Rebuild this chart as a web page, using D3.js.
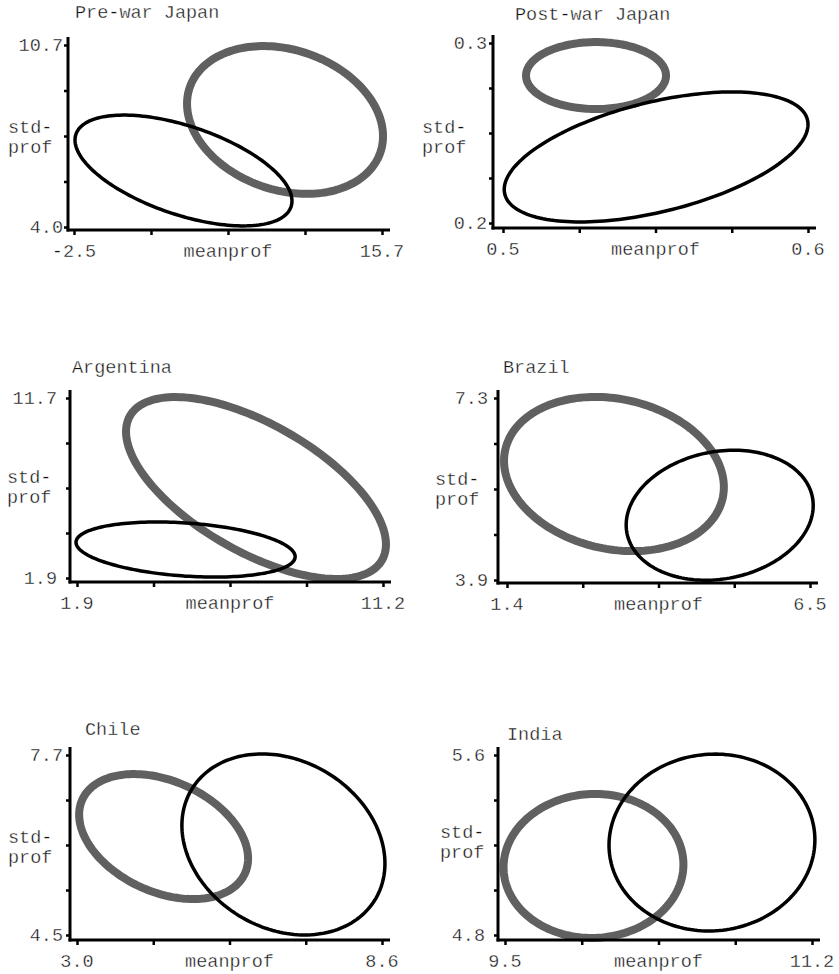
<!DOCTYPE html>
<html>
<head>
<meta charset="utf-8">
<script src="https://cdn.jsdelivr.net/npm/d3@7"></script>
<style>
  html, body { margin: 0; padding: 0; background: #fff; }
  svg { display: block; }
  text { font-family: "Liberation Mono", "Courier New", monospace; font-size: 18.5px; fill: #111;
         stroke: #fff; stroke-width: 0.35px; }
</style>
</head>
<body>
<svg id="chart" width="839" height="974"></svg>
<script>
// ---- data ----
const titles = ["Pre-war Japan", "Post-war Japan", "Argentina", "Brazil", "Chile", "India"];
const xMin = [-2.5, 0.5, 1.9, 1.4, 3.0, 9.5];
const xMax = [15.7, 0.6, 11.2, 6.5, 8.6, 11.2];
const yMin = [4.0, 0.2, 1.9, 3.9, 4.5, 4.8];
const yMax = [10.7, 0.3, 11.7, 7.3, 7.7, 5.6];
const xTickLabels = [["-2.5", "15.7"], ["0.5", "0.6"], ["1.9", "11.2"], ["1.4", "6.5"], ["3.0", "8.6"], ["9.5", "11.2"]];
const yTickLabels = [["4.0", "10.7"], ["0.2", "0.3"], ["1.9", "11.7"], ["3.9", "7.3"], ["4.5", "7.7"], ["4.8", "5.6"]];
const xLabel = "meanprof";
const yLabel = ["std-", "prof"];

// gray (thick) ellipse: mean, sd, correlation
const grayCx  = [9.97, 0.5305, 7.34, 3.20, 4.59, 9.99];
const grayCy  = [7.94, 0.2819, 6.80, 5.88, 6.25, 5.107];
const graySx  = [5.79, 0.02295, 3.95, 1.85, 1.551, 0.498];
const graySy  = [2.72, 0.0186, 4.95, 1.44, 1.111, 0.32];
const grayRho = [-0.22, 0.0, -0.62, -0.17, -0.35, 0.02];
// black (thin) ellipse
const blackCx  = [3.97, 0.5502, 5.20, 4.98, 6.79, 10.646];
const blackCy  = [6.08, 0.2367, 3.45, 5.11, 6.11, 5.211];
const blackSx  = [6.41, 0.0498, 3.33, 1.574, 1.864, 0.570];
const blackSy  = [2.04, 0.0361, 1.50, 1.214, 1.609, 0.393];
const blackRho = [-0.55, 0.5, -0.26, 0.15, -0.21, 0.03];

// ---- layout (pixels) ----
const layout = [
  {axisX: 68,  axisY: 230, x0: 74,  x1: 382, y0: 227, y1: 45,  titleX: 75,  titleY: 18,  ylabX: 8,   ylabY: 133, yTickEnd: 63},
  {axisX: 493, axisY: 228, x0: 503, x1: 808, y0: 223, y1: 43,  titleX: 515, titleY: 20,  ylabX: 422, ylabY: 133, yTickEnd: 487},
  {axisX: 70,  axisY: 582, x0: 77,  x1: 383, y0: 578, y1: 398, titleX: 72,  titleY: 373, ylabX: 7,   ylabY: 483, yTickEnd: 57},
  {axisX: 498, axisY: 583, x0: 507, x1: 810, y0: 580, y1: 398, titleX: 503, titleY: 373, ylabX: 435, ylabY: 485, yTickEnd: 488},
  {axisX: 70,  axisY: 940, x0: 77,  x1: 382, y0: 935, y1: 755, titleX: 85,  titleY: 735, ylabX: 8,   ylabY: 843, yTickEnd: 63},
  {axisX: 498, axisY: 940, x0: 505, x1: 812, y0: 935, y1: 755, titleX: 507, titleY: 740, ylabX: 440, ylabY: 838, yTickEnd: 485}
];

const svg = d3.select("#chart");

function ellipsePoints(cx, cy, sx, sy, rho) {
  const n = 180, pts = [];
  const k = Math.sqrt(1 - rho * rho);
  for (let i = 0; i < n; i++) {
    const t = 2 * Math.PI * i / n;
    pts.push([cx + sx * Math.cos(t), cy + sy * (rho * Math.cos(t) + k * Math.sin(t))]);
  }
  return pts;
}

titles.forEach((title, i) => {
  const L = layout[i];
  const g = svg.append("g");
  const x = d3.scaleLinear().domain([xMin[i], xMax[i]]).range([L.x0, L.x1]);
  const y = d3.scaleLinear().domain([yMin[i], yMax[i]]).range([L.y0, L.y1]);
  const xt = d3.range(5).map(k => xMin[i] + (xMax[i] - xMin[i]) * k / 4);
  const yt = d3.range(5).map(k => yMin[i] + (yMax[i] - yMin[i]) * k / 4);

  // ellipses
  const line = d3.line().x(d => x(d[0])).y(d => y(d[1])).curve(d3.curveLinearClosed);
  g.append("path")
    .attr("d", line(ellipsePoints(grayCx[i], grayCy[i], graySx[i], graySy[i], grayRho[i])))
    .attr("fill", "none").attr("stroke", "#606060").attr("stroke-width", 8);
  g.append("path")
    .attr("d", line(ellipsePoints(blackCx[i], blackCy[i], blackSx[i], blackSy[i], blackRho[i])))
    .attr("fill", "none").attr("stroke", "#000").attr("stroke-width", 3.5);

  // axes lines
  g.append("line").attr("x1", L.axisX).attr("x2", L.axisX).attr("y1", L.y1 - 8).attr("y2", L.axisY + 1.5)
    .attr("stroke", "#000").attr("stroke-width", 3);
  g.append("line").attr("x1", L.axisX - 1.5).attr("x2", L.x1 + 8).attr("y1", L.axisY).attr("y2", L.axisY)
    .attr("stroke", "#000").attr("stroke-width", 3);

  // ticks via d3 axes
  const ax = g.append("g").attr("transform", `translate(0,${L.axisY})`)
    .call(d3.axisBottom(x).tickValues(xt).tickSize(5).tickFormat(""));
  ax.select(".domain").remove();
  ax.selectAll(".tick line").attr("stroke", "#000").attr("stroke-width", 2.5);
  const ay = g.append("g").attr("transform", `translate(${L.axisX},0)`)
    .call(d3.axisLeft(y).tickValues(yt).tickSize(4).tickFormat(""));
  ay.select(".domain").remove();
  ay.selectAll(".tick line").attr("stroke", "#000").attr("stroke-width", 2.5);

  // tick labels (first and last)
  g.append("text").attr("x", x(xMin[i])).attr("y", L.axisY + 27).attr("text-anchor", "middle").text(xTickLabels[i][0]);
  g.append("text").attr("x", x(xMax[i])).attr("y", L.axisY + 27).attr("text-anchor", "middle").text(xTickLabels[i][1]);
  g.append("text").attr("x", L.yTickEnd).attr("y", y(yMin[i])).attr("dy", "0.35em").attr("text-anchor", "end").text(yTickLabels[i][0]);
  g.append("text").attr("x", L.yTickEnd).attr("y", y(yMax[i])).attr("dy", "0.35em").attr("text-anchor", "end").text(yTickLabels[i][1]);

  // axis titles
  g.append("text").attr("x", x(xt[2])).attr("y", L.axisY + 27).attr("text-anchor", "middle").text(xLabel);
  g.append("text").attr("x", L.ylabX).attr("y", L.ylabY).text(yLabel[0]);
  g.append("text").attr("x", L.ylabX).attr("y", L.ylabY + 20).text(yLabel[1]);

  // panel title
  g.append("text").attr("x", L.titleX).attr("y", L.titleY).text(title);
});
</script>
</body>
</html>
